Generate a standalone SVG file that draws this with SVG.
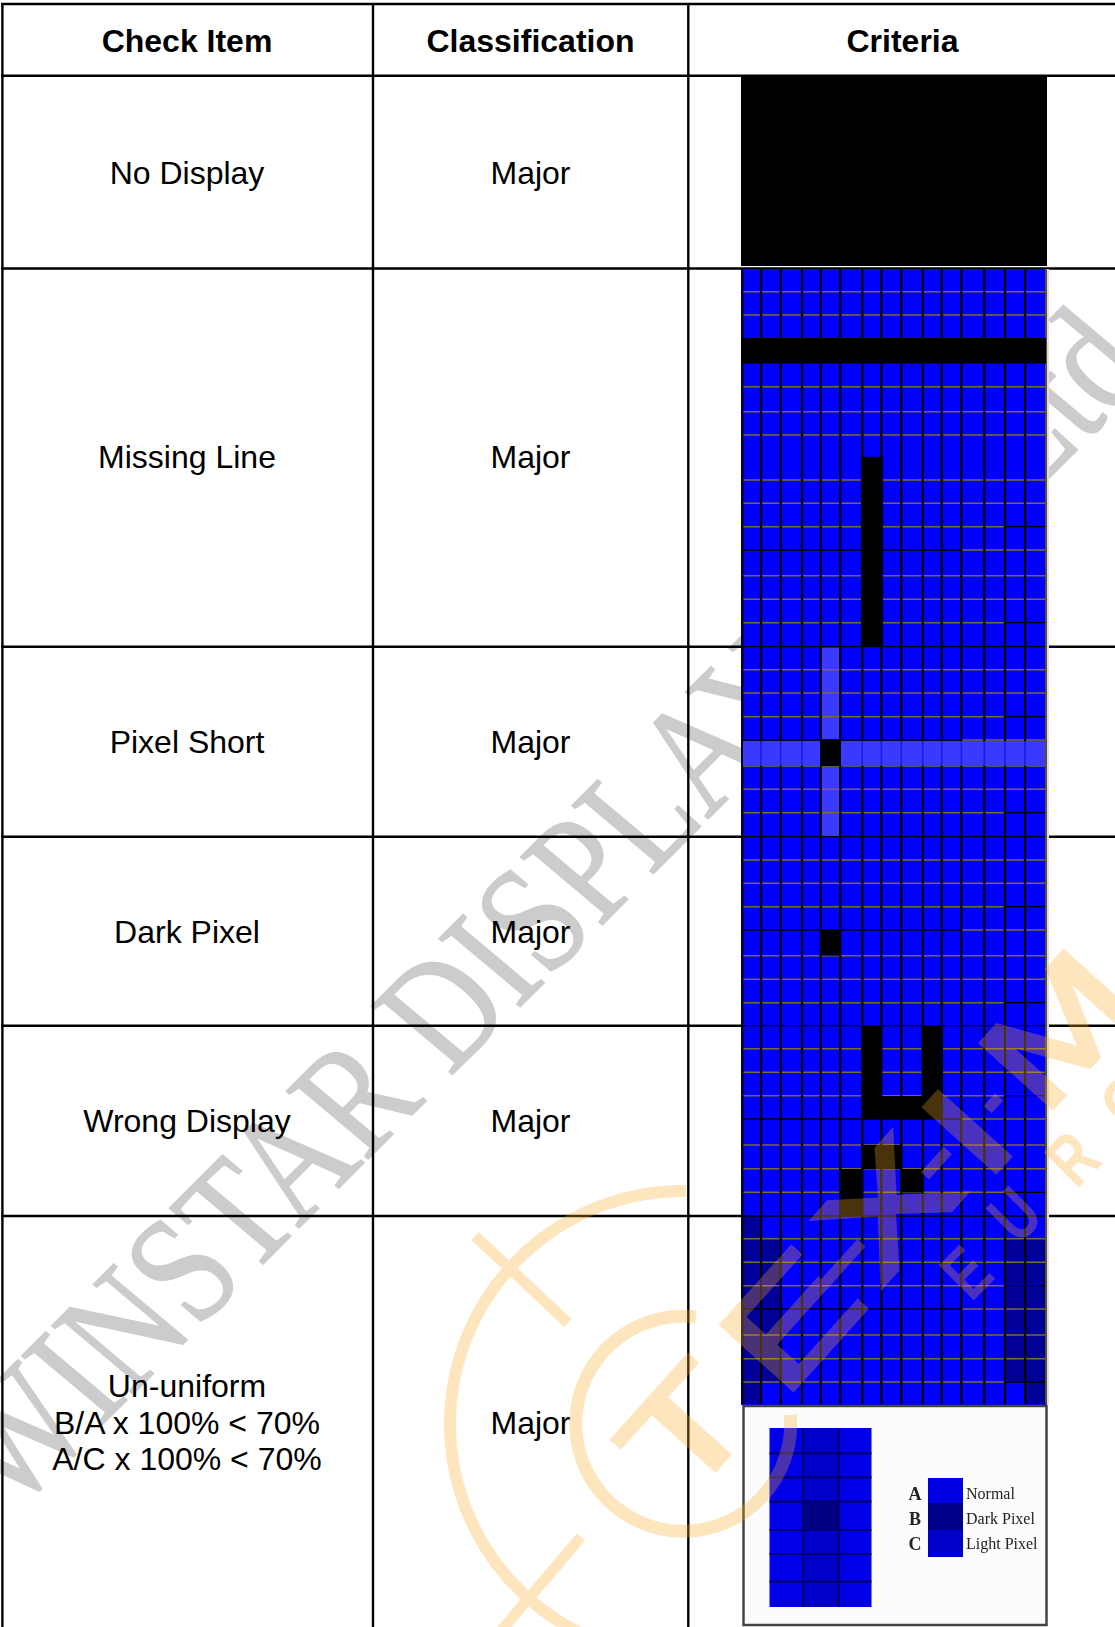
<svg xmlns="http://www.w3.org/2000/svg" width="1115" height="1627" viewBox="0 0 1115 1627">
<style>
text{font-family:"Liberation Sans",Arial,sans-serif}
.c{font-size:32px;text-anchor:middle;fill:#000}
.h{font-size:32px;font-weight:700;text-anchor:middle;fill:#000}
.tl{stroke:#000;stroke-width:2.4;fill:none}
.gold{stroke:#7d6a32;stroke-width:1.5;fill:none}
.blk{stroke:#000;stroke-width:1.3;fill:none}
.v{stroke:#000;stroke-width:2.2;fill:none}
.dark{fill:#000099}
.light{fill:#3a3aff}
.k{fill:#000}
.lg{font-family:"Liberation Serif",serif;font-size:16px;fill:#222}
.lb{font-family:"Liberation Serif",serif;font-size:18px;font-weight:700;fill:#222;text-anchor:middle}
.wl{font-size:140px;text-anchor:middle;stroke:#f9a825;stroke-width:4.5;stroke-linejoin:miter}
.wh{font-size:140px;text-anchor:middle}
.we{font-size:72px;font-weight:700;text-anchor:middle}
</style>
<defs><filter id="soft" x="-5%" y="-5%" width="110%" height="110%"><feGaussianBlur stdDeviation="0.6"/></filter></defs>
<rect width="1115" height="1627" fill="#fff"/>
<g id="watermark-winstar"><text transform="translate(12,1515) rotate(-45) skewX(5) scale(.78,.96)" style="font-family:'Liberation Serif',serif;font-size:168px" fill="#cccccc" stroke="#cccccc" stroke-width="1.6">WINSTAR DISPLAY CO.,Ltd</text></g>
<g id="table-lines" class="tl">
<path d="M1.2 4H1115M1.2 75.7H1115M1.2 268.5H1115M1.2 646.7H1115M1.2 836.7H1115M1.2 1025.7H1115M1.2 1216H1115"/>
<path d="M2.4 3V1627M373 3V1627M688.3 3V1627"/>
</g>
<g id="criteria-images">
<rect id="no-display" x="741" y="76.5" width="306" height="189.5" class="k"/>
<rect x="741" y="269" width="306" height="1136" fill="#0000ff"/>
<g id="dark-areas">
<rect x="742" y="1216" width="19" height="188" class="dark"/>
<rect x="761" y="1238.7" width="19" height="143.3" class="dark"/>
<rect x="1005" y="1238.7" width="40" height="143.3" class="dark"/>
<rect x="1025" y="1382" width="20" height="22" class="dark"/>
</g>
<g id="light-areas">
<rect x="821" y="647.5" width="19" height="92" class="light"/>
<rect x="821" y="766.5" width="19" height="69.5" class="light"/>
</g>
<path class="gold" d="M743 291.7H1045M743 315H1045M743 386.7H1045M743 411.7H1045M743 435H1045M743 480H1045M743 503.3H1045M743 526.7H1005M961 550H1045M743 575.7H1045M743 599.3H1045M743 622.7H1005M743 669.7H1045M743 693H1045M743 716.7H1005M961 740H1045M743 766H1045M743 789.3H1045M743 812.7H1005M743 860H1045M743 883.3H1045M743 906.7H1005M961 930H1045M743 955.7H1045M743 979.3H1045M743 1002.7H1005M743 1048.7H1045M743 1072.3H1045M743 1095.7H1005M961 1119H1045M743 1145H1045M743 1168.7H1045M743 1192.3H1005M743 1238.7H1045M743 1262.3H1045M743 1285.7H1005M961 1309H1045M743 1335H1045M743 1358.7H1045M743 1382H1005"/>
<path class="blk" d="M1005 526.7H1045M743 550H961M1005 622.7H1045M743 646.7H1045M1005 716.7H1045M743 740H961M1005 812.7H1045M743 836.7H1045M1005 906.7H1045M743 930H961M1005 1002.7H1045M743 1025.7H1045M1005 1095.7H1045M743 1119H961M1005 1192.3H1045M743 1216H1045M1005 1285.7H1045M743 1309H961M1005 1382H1045"/>
<path class="v" d="M742.3 269V1404M761 269V1404M780.7 269V1404M802 269V1404M820.7 269V1404M840.3 269V1404M862.3 269V1404M881.3 269V1404M901.3 269V1404M922.7 269V1404M941.7 269V1404M961.3 269V1404M984.3 269V1404M1005 269V1404M1025 269V1404"/>
<rect x="1045" y="269" width="2" height="1135" fill="#5c4f2b"/>
<rect x="1047" y="269" width="2" height="1135" fill="#dddddd"/>
<g id="pixel-short-band">
<rect x="743" y="741" width="302" height="25" class="light"/>
<path stroke="#1c1ce0" stroke-width="1.6" d="M761 741V766M780.7 741V766M802 741V766M862.3 741V766M881.3 741V766M901.3 741V766M922.7 741V766M941.7 741V766M961.3 741V766M984.3 741V766M1005 741V766M1025 741V766"/>
</g>
<g id="black-marks">
<rect x="741" y="338" width="305" height="25.5" class="k"/>
<rect x="861" y="456.7" width="22" height="190" class="k"/>
<rect x="820" y="740" width="21" height="26" class="k"/>
<rect x="820" y="930" width="21" height="25.7" class="k"/>
<rect x="862" y="1026" width="20" height="93" class="k"/>
<rect x="923" y="1026" width="20" height="93" class="k"/>
<rect x="862" y="1096" width="81" height="23" class="k"/>
<rect x="862" y="1145" width="40" height="24" class="k"/>
<rect x="840" y="1169" width="22" height="47" class="k"/>
<rect x="902" y="1169" width="21" height="23.5" class="k"/>
</g>
<g id="legend-image">
<rect x="743.5" y="1406" width="303" height="219" fill="#fcfcfc" stroke="#444" stroke-width="2.5"/>
<g filter="url(#soft)">
<rect x="769.5" y="1428" width="102" height="179" fill="#0000e8"/>
<rect x="803" y="1428" width="36" height="179" fill="#0000c8"/>
<rect x="803" y="1502" width="36" height="28" fill="#000080"/>
<path stroke="#000070" stroke-width="2.2" fill="none" d="M803 1428V1607M839 1428V1607M769.5 1453.3H871.5M769.5 1477.3H871.5M769.5 1501.7H871.5M769.5 1530H871.5M769.5 1554H871.5M769.5 1581.7H871.5"/>
<rect x="928" y="1478" width="35" height="25" fill="#0000e0"/>
<rect x="928" y="1503" width="35" height="27" fill="#00008c"/>
<rect x="928" y="1530" width="35" height="27" fill="#0000c8"/>
<text class="lb" x="915" y="1500">A</text>
<text class="lb" x="915" y="1525">B</text>
<text class="lb" x="915" y="1550">C</text>
<text class="lg" x="966" y="1499">Normal</text>
<text class="lg" x="966" y="1524">Dark Pixel</text>
<text class="lg" x="966" y="1549">Light Pixel</text>
</g>
</g>
</g>
<g id="header-row">
<text class="h" x="187" y="52">Check Item</text>
<text class="h" x="530.5" y="52">Classification</text>
<text class="h" x="902.5" y="52">Criteria</text>
</g>
<g id="row-no-display"><text class="c" x="187" y="184">No Display</text><text class="c" x="530.5" y="184">Major</text></g>
<g id="row-missing-line"><text class="c" x="187" y="468">Missing Line</text><text class="c" x="530.5" y="468">Major</text></g>
<g id="row-pixel-short"><text class="c" x="187" y="753">Pixel Short</text><text class="c" x="530.5" y="753">Major</text></g>
<g id="row-dark-pixel"><text class="c" x="187" y="943">Dark Pixel</text><text class="c" x="530.5" y="943">Major</text></g>
<g id="row-wrong-display"><text class="c" x="187" y="1132">Wrong Display</text><text class="c" x="530.5" y="1132">Major</text></g>
<g id="row-un-uniform"><text class="c" x="187" y="1397">Un-uniform</text><text class="c" x="187" y="1434">B/A x 100% &lt; 70%</text><text class="c" x="187" y="1470">A/C x 100% &lt; 70%</text><text class="c" x="530.5" y="1434">Major</text></g>
<g id="watermark-orange" opacity=".3" fill="#f9a825">
<g fill="none" stroke="#f9a825">
<path stroke-width="12" d="M686 1191A233 233 0 0 0 450 1424A233 233 0 0 0 683 1657"/>
<path stroke-width="13" d="M696 1317A107.5 107.5 0 1 0 790.4 1415"/>
<path stroke-width="11" d="M475 1236L568 1323M581 1537L500 1632"/>
</g>
<text class="wl" transform="translate(722,1462) rotate(-48) scale(1.4,1)">T</text>
<text class="wl" transform="translate(827,1352) rotate(-48) scale(1.4,1)">E</text>
<text class="wh" transform="translate(869,1290) rotate(-48) scale(1.75,1)">-</text>
<text class="wl" transform="translate(924,1240) rotate(-48) scale(1.4,1)">X</text>
<text class="wh" transform="translate(964,1188) rotate(-48)">-</text>
<text class="wl" transform="translate(1003,1164) rotate(-48) scale(1.4,1)">I</text>
<text class="wh" transform="translate(1021,1128) rotate(-48) scale(.5,1)">-</text>
<text class="wl" transform="translate(1094,1062) rotate(-48) scale(1.3,1)">M</text>
<text class="we" transform="translate(984,1290) rotate(-45) scale(.75,1)">E</text>
<text class="we" transform="translate(1032,1232) rotate(-45) scale(.75,1)">U</text>
<text class="we" transform="translate(1090,1176) rotate(-45) scale(.75,1)">R</text>
<text class="we" transform="translate(1145,1120) rotate(-45) scale(.75,1)">O</text>
</g>
</svg>
